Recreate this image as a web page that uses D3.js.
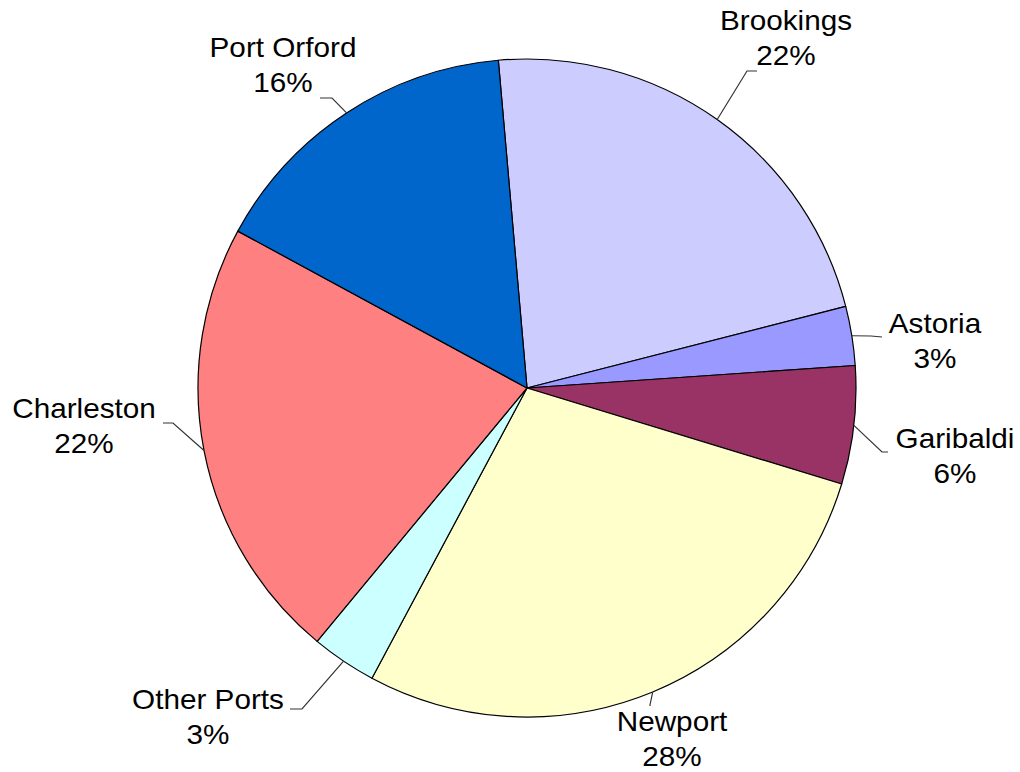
<!DOCTYPE html>
<html>
<head>
<meta charset="utf-8">
<script src="https://cdn.jsdelivr.net/npm/d3@7"></script>
<style>
  html, body { margin: 0; padding: 0; background: #ffffff; }
  svg { display: block; }
  text { font-family: "Liberation Sans", Arial, sans-serif; fill: #000; }
</style>
</head>
<body>
<svg id="chart" width="1020" height="772"></svg>
<script>
// ---- data ----
const ports   = ["Brookings", "Astoria", "Garibaldi", "Newport", "Other Ports", "Charleston", "Port Orford"];
const shares  = [22.4, 2.9, 5.8, 28.1, 3.2, 21.9, 15.7];
const colours = ["#CCCCFF", "#9999FF", "#993366", "#FFFFCC", "#CCFFFF", "#FF8080", "#0066CC"];

// ---- layout (label centres & leader elbows) ----
const labelLayout = {
  "Brookings":   { x: 786, y: 30,  elbow: [747, 71],  end: [757, 71] },
  "Astoria":     { x: 935, y: 333, elbow: [871, 336], end: [882, 337] },
  "Garibaldi":   { x: 955, y: 448, elbow: [882, 452], end: [888, 452] },
  "Newport":     { x: 672, y: 731, elbow: [650, 705], end: [650, 706] },
  "Other Ports": { x: 208, y: 709, elbow: [302, 709], end: [290, 709] },
  "Charleston":  { x: 84,  y: 418, elbow: [173, 423], end: [163, 423] },
  "Port Orford": { x: 283, y: 57,  elbow: [332, 98],  end: [320, 98] }
};

const svg = d3.select("#chart");
const cx = 527, cy = 388, R = 329;
const g = svg.append("g").attr("transform", `translate(${cx},${cy})`);

const startDeg = -5;
const pie = d3.pie()
  .sort(null)
  .value(d => d.v)
  .startAngle(startDeg * Math.PI / 180)
  .endAngle((startDeg + 360) * Math.PI / 180);

const data = ports.map((p, i) => ({ name: p, v: shares[i], c: colours[i] }));
const arcs = pie(data);
const arc = d3.arc().innerRadius(0).outerRadius(R);

g.selectAll("path.slice")
  .data(arcs)
  .enter().append("path")
  .attr("class", "slice")
  .attr("d", arc)
  .attr("fill", d => d.data.c)
  .attr("stroke", "#000")
  .attr("stroke-width", 1.2)
  .attr("stroke-linejoin", "round");

// leader lines
const total = d3.sum(shares);
arcs.forEach(a => {
  const L = labelLayout[a.data.name];
  const mid = (a.startAngle + a.endAngle) / 2;
  const px = cx + Math.sin(mid) * R;
  const py = cy - Math.cos(mid) * R;
  svg.append("polyline")
    .attr("points", [[px, py], L.elbow, L.end].map(p => p.join(",")).join(" "))
    .attr("fill", "none")
    .attr("stroke", "#333")
    .attr("stroke-width", 1.2);
});

// labels
const pct = d3.format(".0f");
arcs.forEach(a => {
  const L = labelLayout[a.data.name];
  const t = svg.append("g").attr("transform", `translate(${L.x},${L.y}) scale(1.1,1)`);
  t.append("text")
    .attr("text-anchor", "middle")
    .attr("font-size", 27)
    .text(a.data.name);
  t.append("text")
    .attr("text-anchor", "middle")
    .attr("font-size", 27)
    .attr("y", 35)
    .text(pct(a.data.v / total * 100) + "%");
});
</script>
</body>
</html>
